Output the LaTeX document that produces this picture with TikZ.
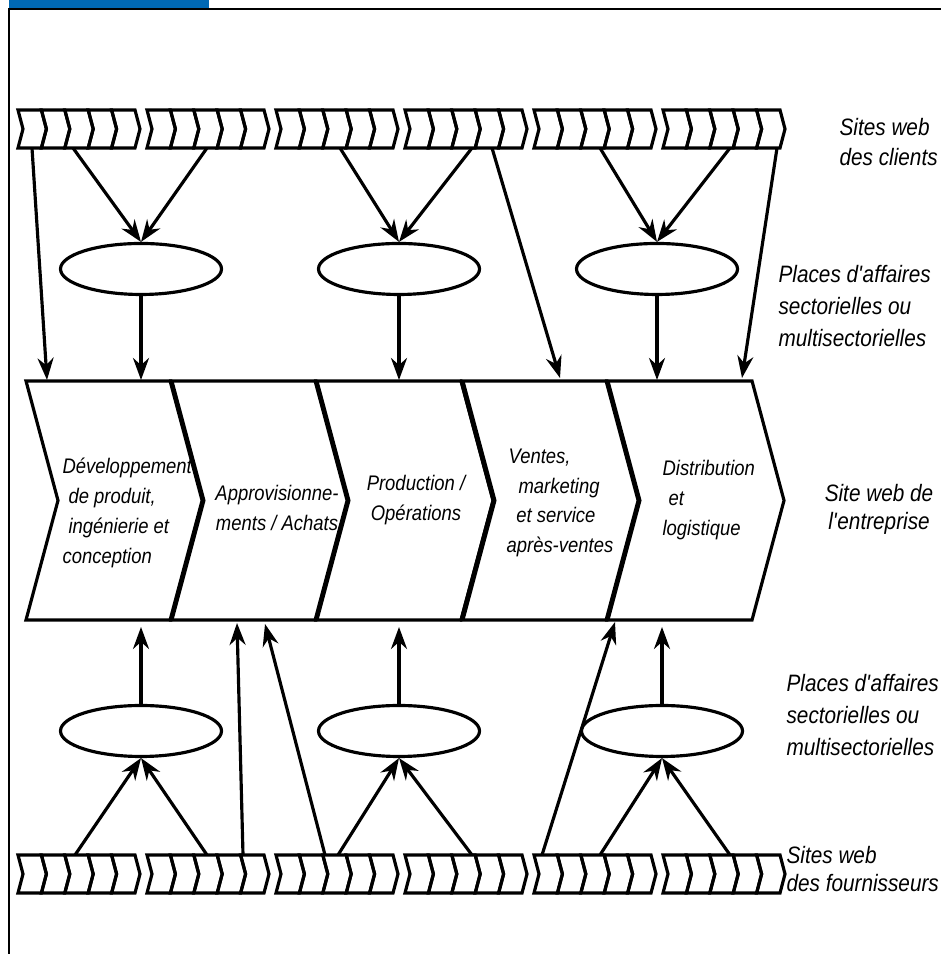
\documentclass[tikz,border=0pt]{standalone}
\usepackage{fontspec}
\setmainfont{Liberation Sans}[FakeStretch=0.875]
\usetikzlibrary{arrows.meta,shapes.geometric}
\definecolor{bandblue}{RGB}{0,104,180}
\newcommand{\labelfont}{\itshape\fontsize{6.75}{9.2}\selectfont}
\newcommand{\stagefont}{\itshape\fontsize{6}{8.5}\selectfont}
\tikzset{
  market/.style={draw, ellipse, minimum width=1.61cm, minimum height=0.51cm, inner sep=0pt},
  stage/.style={font=\stagefont, inner sep=0pt},
  side/.style={font=\labelfont, align=left, anchor=west, inner sep=0pt},
}
\begin{document}
\begin{tikzpicture}[>={Stealth[length=2.2mm,width=1.6mm]}, line width=0.9pt]
  \useasboundingbox (0,0) rectangle (9.41,9.54);
  % cadre
  \fill[bandblue] (0.09,9.45) rectangle (2.09,9.54);
  \draw[line width=0.8pt] (0.09,0) -- (0.09,9.45) -- (9.41,9.45);
  % sites web des clients (haut) et des fournisseurs (bas)
  \foreach \x in {0.18,1.47,2.76,4.05,5.34,6.63}
    \foreach \y in {8.44,0.99}
      \foreach \k in {0,...,4}
        \draw (\x+\k*0.234,\y) -- ++(0.234,0) -- ++(0.05,-0.19) -- ++(-0.05,-0.19)
              -- ++(-0.234,0) -- ++(0.05,0.19) -- cycle;
  % chaine de valeur
  \foreach \x in {0.26,1.71,3.16,4.62,6.07}
    \draw (\x,5.73) -- ++(1.45,0) -- ++(0.32,-1.195) -- ++(-0.32,-1.195)
          -- ++(-1.45,0) -- ++(0.32,1.195) -- cycle;
  \foreach \x in {1.71,3.16,4.62,6.07}
    \draw[line width=1.4pt] (\x,5.73) -- ++(0.32,-1.195) -- ++(-0.32,-1.195);
  \coordinate (chaintop) at (0,5.74);
  \coordinate (chainbot) at (0,3.27);
  \node[stage, align=left, anchor=west] (dev) at (0.61,4.41)
    {D\'eveloppement\\\hspace{1.7pt}de produit,\\\hspace{1.7pt}ing\'enierie et\\conception};
  \node[stage, align=center] (appro) at (2.77,4.46) {Approvisionne-\\ments / Achats};
  \node[stage, align=center] (prod) at (4.16,4.54) {Production /\\Op\'erations};
  \node[stage, align=left, anchor=west] (vente) at (5.05,4.51)
    {\hspace{0.6pt}Ventes,\\\hspace{3.4pt}marketing\\\hspace{2.8pt}et service\\apr\`es-ventes};
  \node[stage, align=left, anchor=west] (distrib) at (6.61,4.54) {Distribution\\\hspace{1.7pt}et\\logistique};
  % places d'affaires
  \node[market] (pc1) at (1.41,6.85) {};
  \node[market] (pc2) at (3.99,6.85) {};
  \node[market] (pc3) at (6.57,6.85) {};
  \node[market] (pf1) at (1.41,2.23) {};
  \node[market] (pf2) at (3.99,2.23) {};
  \node[market] (pf3) at (6.62,2.23) {};
  % cote clients
  \coordinate (c1) at (0.32,8.06); \coordinate (c2) at (0.73,8.06);
  \coordinate (c3) at (2.07,8.06); \coordinate (c4) at (3.40,8.06);
  \coordinate (c5) at (4.72,8.06); \coordinate (c6) at (4.92,8.06);
  \coordinate (c7) at (6.00,8.06); \coordinate (c8) at (7.30,8.06);
  \coordinate (c9) at (7.77,8.06);
  \coordinate (d1) at (0.47,5.74); \coordinate (d6) at (5.60,5.76);
  \coordinate (d9) at (7.42,5.76);
  \draw[->] (c1) -- (d1);
  \draw[->] (c2) -- (pc1.north);
  \draw[->] (c3) -- (pc1.north);
  \draw[->] (pc1) -- (pc1 |- chaintop);
  \draw[->] (c4) -- (pc2.north);
  \draw[->] (c5) -- (pc2.north);
  \draw[->] (pc2) -- (pc2 |- chaintop);
  \draw[->] (c6) -- (d6);
  \draw[->] (c7) -- (pc3.north);
  \draw[->] (c8) -- (pc3.north);
  \draw[->] (pc3) -- (pc3 |- chaintop);
  \draw[->] (c9) -- (d9);
  % cote fournisseurs
  \coordinate (f1) at (0.75,0.99); \coordinate (f2) at (2.07,0.99);
  \coordinate (f3) at (2.43,0.99); \coordinate (f4) at (3.25,0.99);
  \coordinate (f5) at (3.38,0.99); \coordinate (f6) at (4.72,0.99);
  \coordinate (f7) at (5.42,0.99); \coordinate (f8) at (6.00,0.99);
  \coordinate (f9) at (7.30,0.99);
  \coordinate (g3) at (2.37,3.31); \coordinate (g4) at (2.65,3.30);
  \coordinate (g7) at (6.15,3.32);
  \draw[->] (f1) -- (pf1.south);
  \draw[->] (f2) -- (pf1.south);
  \draw[->] (pf1) -- (pf1 |- chainbot);
  \draw[->] (f3) -- (g3);
  \draw[->] (f4) -- (g4);
  \draw[->] (f5) -- (pf2.south);
  \draw[->] (f6) -- (pf2.south);
  \draw[->] (pf2) -- (pf2 |- chainbot);
  \draw[->] (f7) -- (g7);
  \draw[->] (f8) -- (pf3.south);
  \draw[->] (f9) -- (pf3.south);
  \draw[->] (pf3) -- (pf3 |- chainbot);
  % legendes
  \node[side, font=\itshape\fontsize{6.75}{8.5}\selectfont] (clients) at (8.38,8.12) {Sites web\\des clients};
  \node[side] (placeshaut) at (7.77,6.48) {Places d\textquotesingle affaires\\sectorielles ou\\multisectorielles};
  \node[side, align=center, anchor=center, font=\itshape\fontsize{6.75}{8}\selectfont] (entreprise) at (8.79,4.45) {Site web de\\l\textquotesingle entreprise};
  \node[side] (placesbas) at (7.85,2.39) {Places d\textquotesingle affaires\\sectorielles ou\\multisectorielles};
  \node[side, font=\itshape\fontsize{6.75}{8}\selectfont] (fournisseurs) at (7.85,0.85) {Sites web\\des fournisseurs};
\end{tikzpicture}
\end{document}
